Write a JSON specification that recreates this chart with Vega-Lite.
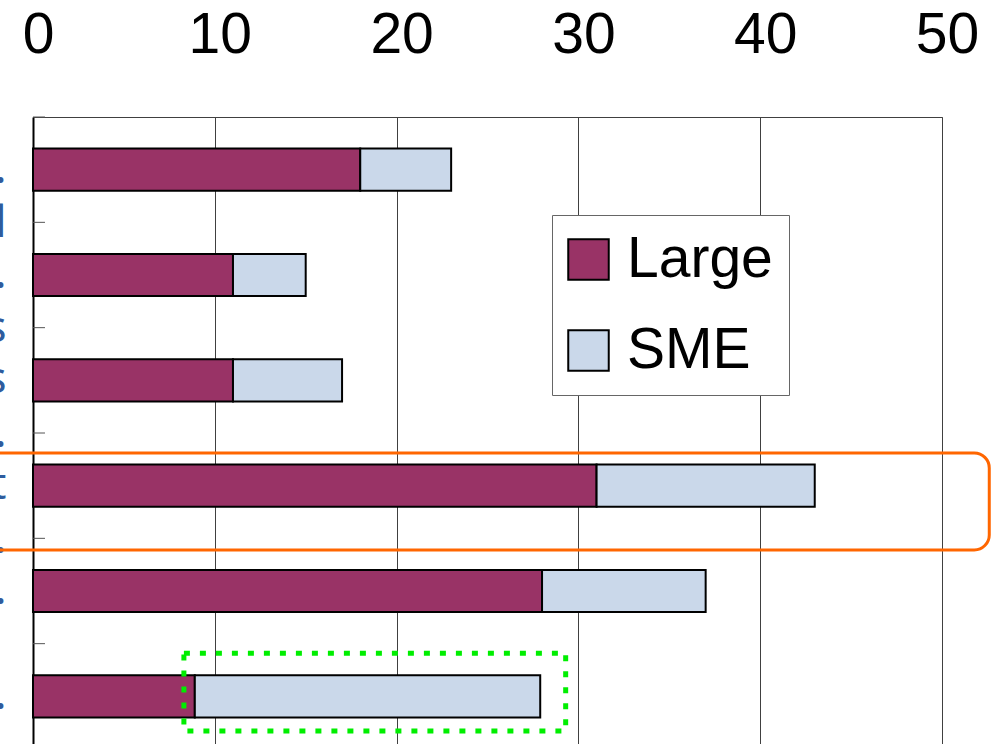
{
  "$schema": "https://vega.github.io/schema/vega-lite/v6.json",
  "width": 909,
  "height": 632,
  "autosize": {"type": "none"},
  "padding": {"left": 33, "top": 117, "right": 57, "bottom": -5},
  "background": "white",
  "config": {
    "font": "Liberation Sans",
    "view": {"stroke": "#404040", "strokeWidth": 1}
  },
  "datasets": {
    "firms": [
      {"category": "Basic materials etc.|and processed", "size": "Large", "value": 18},
      {"category": "Basic materials etc.|and processed", "size": "SME", "value": 5},
      {"category": "Food & drink etc.|Textiles & fibres", "size": "Large", "value": 11},
      {"category": "Food & drink etc.|Textiles & fibres", "size": "SME", "value": 4},
      {"category": "Electronics|& devices etc.", "size": "Large", "value": 11},
      {"category": "Electronics|& devices etc.", "size": "SME", "value": 6},
      {"category": "Transport equipment|Automobiles etc.", "size": "Large", "value": 31},
      {"category": "Transport equipment|Automobiles etc.", "size": "SME", "value": 12},
      {"category": "Machinery etc.", "size": "Large", "value": 28},
      {"category": "Machinery etc.", "size": "SME", "value": 9},
      {"category": "Others etc.", "size": "Large", "value": 8.9},
      {"category": "Others etc.", "size": "SME", "value": 19}
    ]
  },
  "layer": [
    {
      "data": {"name": "firms"},
      "mark": {"type": "bar", "stroke": "black", "strokeWidth": 2},
      "encoding": {
        "x": {
          "field": "value",
          "type": "quantitative",
          "title": null,
          "scale": {"domain": [0, 50], "nice": false},
          "axis": {
            "orient": "top",
            "values": [0, 10, 20, 30, 40, 50],
            "domain": false,
            "ticks": false,
            "tickSize": 0,
            "labelFontSize": 57,
            "labelColor": "black",
            "labelBaseline": "alphabetic",
            "labelPadding": 65,
            "labelOffset": 5,
            "labelFlush": false,
            "grid": true,
            "gridColor": "#404040",
            "gridWidth": 1
          }
        },
        "y": {
          "field": "category",
          "type": "nominal",
          "sort": null,
          "title": null,
          "scale": {"paddingInner": 0.6, "paddingOuter": 0.3},
          "axis": {
            "orient": "left",
            "domainColor": "black",
            "domainWidth": 2,
            "ticks": false,
            "tickSize": 0,
            "labelExpr": "split(datum.label, '|')",
            "labelFont": "Noto Sans",
            "labelFontSize": 44,
            "labelLineHeight": 54,
            "labelColor": "#2E5C9E",
            "labelAlign": "right",
            "labelBaseline": "middle",
            "labelPadding": 27,
            "labelLimit": 1000,
            "grid": false
          }
        },
        "color": {
          "field": "size",
          "type": "nominal",
          "scale": {"domain": ["Large", "SME"], "range": ["#993366", "#CAD8EA"]},
          "legend": {
            "title": null,
            "orient": "none",
            "legendX": 519,
            "legendY": 98,
            "direction": "vertical",
            "fillColor": "white",
            "strokeColor": "#666666",
            "padding": 16,
            "symbolType": "square",
            "symbolSize": 1640,
            "symbolOffset": -8,
            "symbolStrokeColor": "black",
            "symbolStrokeWidth": 2,
            "labelFontSize": 57,
            "labelColor": "black",
            "labelOffset": 10,
            "labelLimit": 1000,
            "rowPadding": 33
          }
        }
      }
    },
    {
      "data": {"name": "firms"},
      "transform": [{"filter": "datum.size === 'Large'"}],
      "mark": {"type": "rule", "color": "#555555", "strokeWidth": 1, "clip": false},
      "encoding": {
        "y": {
          "field": "category",
          "type": "nominal",
          "sort": null,
          "bandPosition": 0,
          "title": null,
          "axis": null,
          "scale": {"paddingInner": 0, "paddingOuter": 0}
        },
        "x": {"datum": 0, "type": "quantitative", "title": null, "scale": {"domain": [0, 50], "nice": false}},
        "x2": {"datum": 0.66}
      }
    },
    {
      "data": {"values": [{"x0": -3, "x1": 52.6, "y0": 3.19, "y1": 4.11}]},
      "mark": {"type": "rect", "fill": null, "fillOpacity": 0, "stroke": "#FF6600", "strokeWidth": 3, "cornerRadius": 15, "clip": false},
      "encoding": {
        "x": {"field": "x0", "type": "quantitative", "title": null, "scale": {"domain": [0, 50], "nice": false}},
        "x2": {"field": "x1"},
        "y": {"field": "y0", "type": "quantitative", "title": null, "axis": null, "scale": {"domain": [0, 6], "nice": false, "zero": false, "reverse": true}},
        "y2": {"field": "y1"}
      }
    },
    {
      "data": {"values": [{"x0": 8.3, "x1": 29.3, "y0": 5.09, "y1": 5.83}]},
      "mark": {"type": "rect", "fill": null, "fillOpacity": 0, "stroke": "#00EE00", "strokeWidth": 5, "strokeDash": [6, 10], "clip": false},
      "encoding": {
        "x": {"field": "x0", "type": "quantitative", "title": null, "scale": {"domain": [0, 50], "nice": false}},
        "x2": {"field": "x1"},
        "y": {"field": "y0", "type": "quantitative", "title": null, "axis": null, "scale": {"domain": [0, 6], "nice": false, "zero": false, "reverse": true}},
        "y2": {"field": "y1"}
      }
    }
  ],
  "resolve": {"scale": {"y": "independent"}}
}
